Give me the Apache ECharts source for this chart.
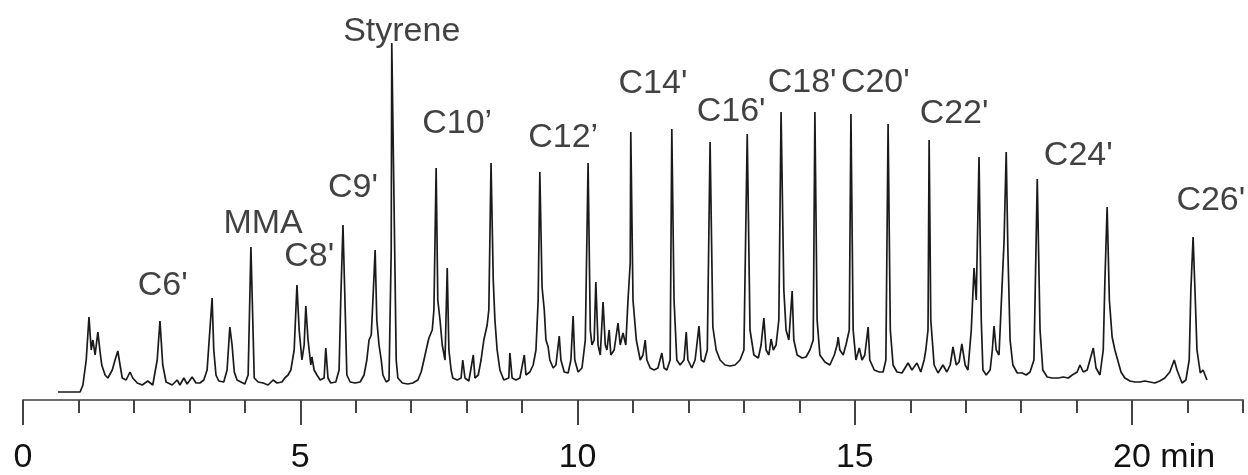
<!DOCTYPE html>
<html>
<head>
<meta charset="utf-8">
<script src="https://cdn.jsdelivr.net/npm/echarts@6/dist/echarts.min.js"></script>
<style>
html,body{margin:0;padding:0;background:#fff;}
#chart{width:1248px;height:475px;}
</style>
</head>
<body>
<div id="chart"></div>
<script>
// Retention time (min) and detector signal (arbitrary units)
const retentionTime = [
0.63,1.03,1.08,1.14,1.19,1.23,1.26,1.30,1.35,1.39,1.42,1.48,1.53,1.61,1.66,1.71,1.75,1.79,1.86,1.93,1.98,2.06,2.15,2.25,2.34,2.42,2.47,2.52,2.58,2.69,2.78,2.83,2.90,2.96,3.05,3.12,3.19,3.26,3.32,3.37,3.41,3.44,3.48,3.53,3.62,3.68,3.73,3.77,3.81,3.86,3.93,4.00,4.06,4.11,4.17,4.24,4.33,4.42,4.51,4.58,4.67,4.72,4.78,4.83,4.89,4.94,4.98,5.03,5.07,5.10,5.14,5.19,5.21,5.25,5.30,5.36,5.43,5.46,5.50,5.55,5.64,5.70,5.73,5.77,5.81,5.84,5.90,5.99,6.08,6.15,6.20,6.24,6.28,6.31,6.35,6.38,6.42,6.46,6.49,6.55,6.60,6.64,6.65,6.69,6.73,6.76,6.84,6.94,7.03,7.12,7.18,7.23,7.29,7.32,7.38,7.41,7.45,7.48,7.52,7.56,7.61,7.65,7.68,7.72,7.75,7.83,7.90,7.93,7.97,8.04,8.12,8.15,8.21,8.26,8.31,8.37,8.40,8.44,8.48,8.51,8.55,8.60,8.67,8.76,8.78,8.82,8.89,8.96,9.04,9.07,9.14,9.20,9.25,9.29,9.32,9.36,9.40,9.43,9.47,9.50,9.56,9.61,9.67,9.70,9.76,9.83,9.88,9.92,9.95,10.01,10.08,10.14,10.19,10.23,10.26,10.30,10.33,10.37,10.41,10.46,10.50,10.53,10.57,10.60,10.66,10.73,10.77,10.82,10.87,10.91,10.95,10.96,11.00,11.06,11.13,11.18,11.22,11.25,11.31,11.38,11.45,11.52,11.56,11.61,11.67,11.70,11.74,11.79,11.85,11.92,11.96,11.99,12.06,12.12,12.19,12.23,12.28,12.34,12.39,12.44,12.50,12.57,12.66,12.75,12.84,12.93,13.00,13.06,13.11,13.18,13.26,13.31,13.36,13.40,13.45,13.49,13.53,13.58,13.63,13.67,13.72,13.76,13.81,13.87,13.90,13.96,14.05,14.12,14.19,14.25,14.28,14.32,14.37,14.46,14.55,14.63,14.68,14.70,14.73,14.79,14.84,14.90,14.93,14.97,15.02,15.08,15.13,15.18,15.24,15.27,15.35,15.44,15.51,15.56,15.60,15.64,15.69,15.76,15.85,15.96,16.03,16.12,16.19,16.25,16.28,16.32,16.34,16.37,16.43,16.50,16.59,16.66,16.72,16.77,16.83,16.88,16.93,16.99,17.04,17.10,17.15,17.19,17.24,17.28,17.31,17.37,17.44,17.48,17.51,17.55,17.60,17.66,17.69,17.73,17.76,17.80,17.85,17.93,18.02,18.09,18.16,18.23,18.29,18.34,18.39,18.47,18.56,18.67,18.76,18.85,18.92,19.01,19.06,19.12,19.19,19.24,19.30,19.35,19.42,19.48,19.51,19.55,19.59,19.64,19.69,19.75,19.80,19.87,19.96,20.05,20.14,20.23,20.32,20.41,20.50,20.59,20.68,20.76,20.81,20.90,20.97,21.03,21.06,21.10,21.14,21.17,21.23,21.28,21.35
];
const signal = [
8,8,15,40,83,50,60,45,68,48,35,25,22,30,40,49,35,22,20,28,22,17,15,19,15,40,79,35,18,15,20,15,22,16,23,17,17,20,30,70,102,50,25,19,18,30,73,55,28,20,18,16,25,153,22,18,17,15,20,17,18,22,25,30,50,115,70,40,55,94,60,35,43,30,25,20,22,52,22,17,18,30,100,175,90,25,18,17,18,25,40,60,65,100,150,80,55,40,25,18,20,150,357,200,40,22,17,16,17,20,28,40,55,62,70,90,232,100,80,55,40,132,50,30,22,20,22,40,22,19,45,22,25,40,60,75,90,237,120,80,50,30,20,22,47,22,20,22,45,25,28,35,50,100,228,113,90,60,53,40,32,35,64,40,28,27,40,84,40,28,32,60,237,70,55,60,118,55,45,98,55,50,70,45,50,77,55,67,55,100,137,268,100,60,40,45,60,40,32,30,32,47,32,30,40,271,100,40,35,40,68,40,32,40,74,40,38,50,258,73,50,40,35,34,35,40,50,266,70,45,42,55,82,50,45,61,50,55,80,288,110,70,60,109,60,45,42,43,50,60,288,80,45,38,35,45,55,63,50,45,55,70,286,70,40,52,40,45,73,40,30,28,28,40,276,70,35,28,27,37,30,37,28,40,50,70,260,80,35,27,35,28,35,53,35,38,56,35,30,70,132,100,243,80,30,25,30,50,74,50,45,120,157,248,150,60,35,27,27,25,28,40,221,70,30,23,22,22,23,22,25,28,35,28,30,40,52,32,25,50,120,193,100,63,50,38,28,22,19,18,18,19,18,17,19,22,28,40,30,17,20,40,110,163,100,50,27,30,20
];

// Peak annotations
const peakNames  = ["C6'", "MMA", "C8'", "C9'", "Styrene", "C10\u2019", "C12\u2019", "C14'", "C16'", "C18'", "C20'", "C22'", "C24'", "C26'"];
const peakLabelTime  = [2.52, 4.33, 5.16, 5.95, 6.83, 7.83, 9.74, 11.36, 12.77, 14.05, 15.37, 16.79, 19.03, 21.42];
const peakLabelLevel = [114, 176, 143, 212, 368, 276, 262, 316, 288, 317, 317, 286, 244, 199];

// Axis ticks
const majorTicks = [0, 5, 10, 15, 20];
const minorTicks = [1, 2, 3, 4, 6, 7, 8, 9, 11, 12, 13, 14, 16, 17, 18, 19, 21, 22];
const tickLabels = ['0', '5', '10', '15', '20 min'];

const FONT = 'Liberation Sans, Arial, sans-serif';
const traceData = retentionTime.map((t, i) => [t, signal[i]]);
const labelData = peakNames.map((n, i) => ({ name: n, value: [peakLabelTime[i], peakLabelLevel[i]] }));

const chart = echarts.init(document.getElementById('chart'), null, { renderer: 'canvas' });
chart.setOption({
  backgroundColor: '#ffffff',
  animation: false,
  grid: { left: 23, right: 5, top: 0, bottom: 75, containLabel: false },
  xAxis: [
    {
      type: 'value', position: 'bottom', min: 0, max: 22,
      axisLine: { show: true, lineStyle: { color: '#6e6e6e', width: 2 } },
      axisTick: { show: true, customValues: minorTicks, length: 13, lineStyle: { color: '#444', width: 2 } },
      axisLabel: { show: false },
      splitLine: { show: false }
    },
    {
      type: 'value', position: 'bottom', min: 0, max: 22,
      axisLine: { show: false },
      axisTick: { show: true, customValues: majorTicks, length: 25, lineStyle: { color: '#444', width: 2 } },
      axisLabel: {
        show: true, customValues: majorTicks, margin: 41,
        color: '#111', fontSize: 34, fontFamily: FONT,
        formatter: function (v) {
          const idx = majorTicks.indexOf(v);
          const txt = idx >= 0 ? tickLabels[idx] : '';
          if (txt.indexOf(' ') > 0) return '{pad| }{t|' + txt + '}';
          return '{t|' + txt + '}';
        },
        rich: {
          pad: { width: 64, fontSize: 34, fontFamily: FONT },
          t: { fontSize: 34, fontFamily: FONT, color: '#111' }
        }
      },
      splitLine: { show: false }
    }
  ],
  yAxis: { type: 'value', min: 0, max: 400, show: false, splitLine: { show: false } },
  series: [
    {
      type: 'line', xAxisIndex: 0, data: traceData, showSymbol: false, symbol: 'none',
      lineStyle: { color: '#1a1a1a', width: 1.7 }, silent: true
    },
    {
      type: 'scatter', xAxisIndex: 0, data: labelData, symbolSize: 1,
      itemStyle: { color: 'rgba(0,0,0,0)' },
      label: {
        show: true, position: 'inside', formatter: '{b}',
        color: '#111', fontSize: 34, fontFamily: FONT
      },
      silent: true
    }
  ]
});
</script>
</body>
</html>
